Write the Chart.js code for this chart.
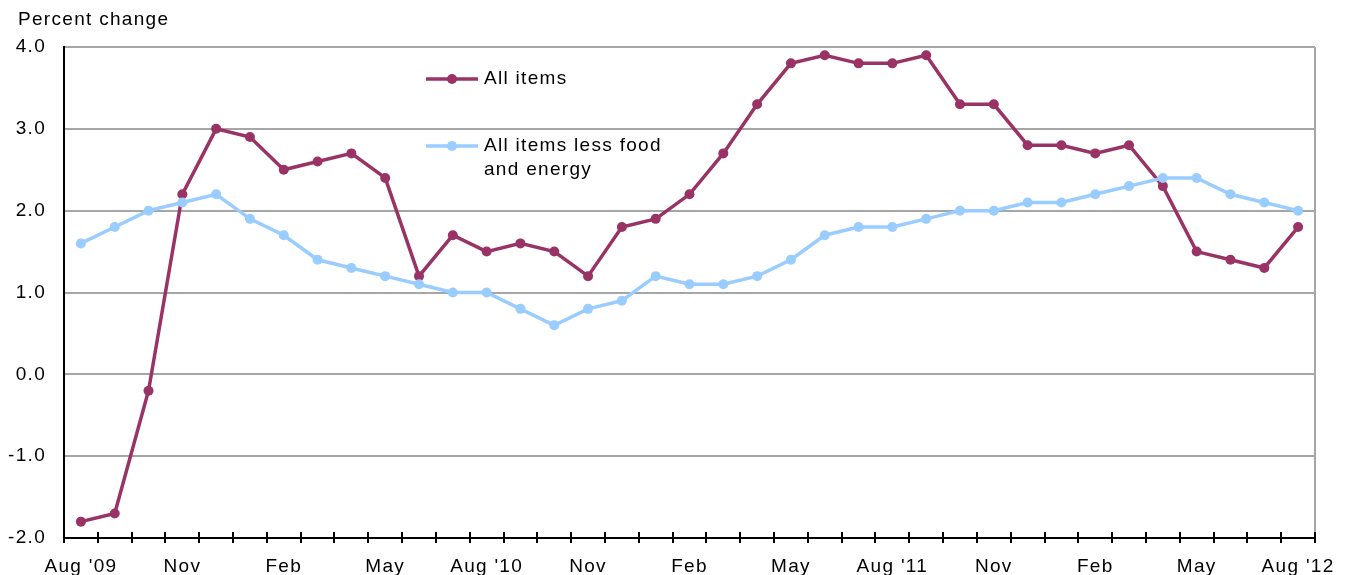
<!DOCTYPE html>
<html>
<head>
<meta charset="utf-8">
<script src="https://cdn.jsdelivr.net/npm/chart.js@4.4.1/dist/chart.umd.min.js"></script>
<style>
  html, body { margin: 0; padding: 0; background: #fff; }
  #wrap { position: relative; width: 1351px; height: 575px; }
</style>
</head>
<body>
<div id="wrap"><canvas id="cpi"></canvas></div>
<script>
var months = ["Aug '09","Sep","Oct","Nov","Dec","Jan","Feb","Mar","Apr","May","Jun","Jul",
  "Aug '10","Sep","Oct","Nov","Dec","Jan","Feb","Mar","Apr","May","Jun","Jul",
  "Aug '11","Sep","Oct","Nov","Dec","Jan","Feb","Mar","Apr","May","Jun","Jul","Aug '12"];
var allItems = [-1.8,-1.7,-0.2,2.2,3.0,2.9,2.5,2.6,2.7,2.4,1.2,1.7,
  1.5,1.6,1.5,1.2,1.8,1.9,2.2,2.7,3.3,3.8,3.9,3.8,
  3.8,3.9,3.3,3.3,2.8,2.8,2.7,2.8,2.3,1.5,1.4,1.3,1.8];
var core = [1.6,1.8,2.0,2.1,2.2,1.9,1.7,1.4,1.3,1.2,1.1,1.0,
  1.0,0.8,0.6,0.8,0.9,1.2,1.1,1.1,1.2,1.4,1.7,1.8,
  1.8,1.9,2.0,2.0,2.1,2.1,2.2,2.3,2.4,2.4,2.2,2.1,2.0];
var yTicks = [-2.0,-1.0,0.0,1.0,2.0,3.0,4.0];

var purple = "#993366";
var blue = "#99ccff";
var font = "Liberation Sans, Arial, sans-serif";
var spacing = "1.3px";

// wider letter spacing like the original, kept through chart.js save/restore
var spaced = {
  id: "spaced",
  beforeLayout: function(chart) { chart.ctx.letterSpacing = spacing; },
  beforeDraw: function(chart) { chart.ctx.letterSpacing = spacing; }
};

// legend, axis title, right border, tick marks crossing the x axis
var extras = {
  id: "extras",
  afterDraw: function(chart) {
    var c = chart.ctx, a = chart.chartArea, x = chart.scales.x;
    c.save();
    c.strokeStyle = "#a6a6a6";
    c.lineWidth = 2;
    c.beginPath();
    c.moveTo(a.right, a.top);
    c.lineTo(a.right, a.bottom);
    c.stroke();

    // upper half of the x tick marks
    var step = x.width / months.length;
    c.strokeStyle = "#000";
    c.beginPath();
    for (var i = 0; i <= months.length; i++) {
      var px = Math.round(x.left + i * step);
      c.moveTo(px, a.bottom - 6);
      c.lineTo(px, a.bottom);
    }
    c.stroke();

    c.font = "19px " + font;
    c.fillStyle = "#000";
    c.textBaseline = "middle";
    c.textAlign = "left";
    c.fillText("Percent change", 18, 20);

    var items = [
      {color: purple, y: 79, lines: ["All items"]},
      {color: blue, y: 146, lines: ["All items less food", "and energy"]}
    ];
    items.forEach(function(it) {
      c.strokeStyle = it.color;
      c.lineWidth = 3.5;
      c.beginPath();
      c.moveTo(426, it.y);
      c.lineTo(478, it.y);
      c.stroke();
      c.fillStyle = it.color;
      c.beginPath();
      c.arc(452, it.y, 5, 0, Math.PI * 2);
      c.fill();
      c.fillStyle = "#000";
      it.lines.forEach(function(t, i) {
        c.fillText(t, 484, it.y + i * 24);
      });
    });
    c.restore();
  }
};

new Chart(document.getElementById("cpi").getContext("2d"), {
  type: "line",
  data: {
    labels: months,
    datasets: [{
      label: "All items less food and energy",
      data: core,
      borderColor: blue,
      backgroundColor: blue,
      pointBackgroundColor: blue,
      pointBorderWidth: 0,
      pointRadius: 5,
      borderWidth: 3.5,
      tension: 0
    }, {
      label: "All items",
      data: allItems,
      borderColor: purple,
      backgroundColor: purple,
      pointBackgroundColor: purple,
      pointBorderWidth: 0,
      pointRadius: 5,
      borderWidth: 3.5,
      tension: 0
    }]
  },
  options: {
    responsive: true,
    maintainAspectRatio: false,
    animation: false,
    layout: { padding: { left: 0, right: 36, top: 47, bottom: 0 } },
    plugins: {
      legend: { display: false },
      tooltip: { enabled: false }
    },
    scales: {
      x: {
        type: "category",
        offset: true,
        grid: {
          offset: true,
          drawOnChartArea: false,
          drawTicks: true,
          tickLength: 5,
          color: "#000",
          lineWidth: 2
        },
        border: { color: "#000", width: 2 },
        ticks: {
          autoSkip: false,
          maxRotation: 0,
          padding: 12,
          color: "#000",
          font: { size: 19, family: font },
          callback: function(v, i) { return i % 3 === 0 ? months[i] : ""; }
        },
        afterFit: function(s) { s.height = 37; }
      },
      y: {
        min: -2,
        max: 4,
        afterBuildTicks: function(s) {
          s.ticks = yTicks.map(function(v) { return {value: v}; });
        },
        grid: {
          drawTicks: false,
          color: function(ctx) { return ctx.tick && ctx.tick.value === -2 ? "rgba(0,0,0,0)" : "#a6a6a6"; },
          lineWidth: 2
        },
        border: { color: "#000", width: 2 },
        ticks: {
          padding: 18,
          color: "#000",
          font: { size: 19, family: font },
          callback: function(v) { return Number(v).toFixed(1); }
        },
        afterFit: function(s) { s.width = 64; }
      }
    }
  },
  plugins: [spaced, extras]
});
</script>
</body>
</html>
